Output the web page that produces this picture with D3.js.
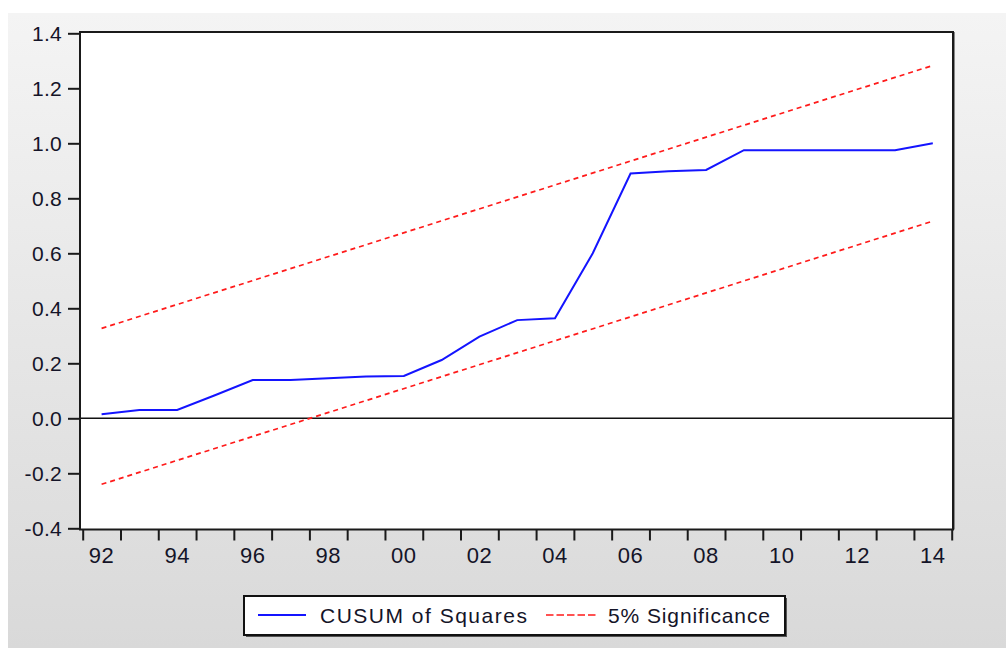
<!DOCTYPE html>
<html>
<head>
<meta charset="utf-8">
<script src="https://cdn.jsdelivr.net/npm/d3@7"></script>
<style>
  body { margin: 0; background: #fff; }
  svg { display: block; }
  text { font-family: "Liberation Sans", Arial, sans-serif; fill: #141428; }
</style>
</head>
<body>
<div id="chart"></div>
<script>
// Data
const years = [1992, 1993, 1994, 1995, 1996, 1997, 1998, 1999, 2000, 2001, 2002, 2003,
  2004, 2005, 2006, 2007, 2008, 2009, 2010, 2011, 2012, 2013, 2014];
const cusum_sq = [0.015, 0.030, 0.030, 0.084, 0.139, 0.139, 0.146, 0.152, 0.154, 0.212, 0.297, 0.357,
  0.364, 0.600, 0.890, 0.898, 0.903, 0.975, 0.975, 0.975, 0.975, 0.975, 1.000];
// 5% bands are straight lines, endpoints only
const band_years = [1992, 2014];
const upper_band = [0.327, 1.283];
const lower_band = [-0.240, 0.717];
const y_ticks = [-0.4, -0.2, 0.0, 0.2, 0.4, 0.6, 0.8, 1.0, 1.2, 1.4];
const x_labels = [1992, 1994, 1996, 1998, 2000, 2002, 2004, 2006, 2008, 2010, 2012, 2014];
const legend_names = ['CUSUM of Squares', '5% Significance'];

// Canvas
const WIDTH = 1006;
const HEIGHT = 648;
const FRAME = { left: 80, right: 953, top: 32, bottom: 529.5 };
const FONT = 21;

let svg = d3.select('#chart').append('svg')
  .attr('width', WIDTH)
  .attr('height', HEIGHT);

let defs = svg.append('defs');
let grad = defs.append('linearGradient')
  .attr('id', 'bg')
  .attr('x1', 0).attr('y1', 0).attr('x2', 0).attr('y2', 1);
grad.append('stop').attr('offset', '0%').attr('stop-color', '#f4f4f4');
grad.append('stop').attr('offset', '100%').attr('stop-color', '#d9d9d9');

svg.append('rect')
  .attr('x', 8).attr('y', 13)
  .attr('width', WIDTH - 8).attr('height', HEIGHT - 13)
  .attr('fill', 'url(#bg)');

// Scales: x in years, points sit mid-year
let x = d3.scaleLinear().domain([1992, 2015]).range([82.7, 951.7]);
let y = d3.scaleLinear().domain([-0.4, 1.4]).range([528.3, 33.3]);

// Plot area
svg.append('rect')
  .attr('x', FRAME.left).attr('y', FRAME.top)
  .attr('width', FRAME.right - FRAME.left)
  .attr('height', FRAME.bottom - FRAME.top)
  .attr('fill', '#fff');

// Y axis
let y_axis = svg.append('g')
  .attr('transform', 'translate(' + FRAME.left + ',0)')
  .call(d3.axisLeft(y).tickValues(y_ticks).tickSize(12).tickPadding(6)
    .tickFormat(d => d.toFixed(1)));
y_axis.select('.domain').remove();
y_axis.selectAll('line').attr('stroke', '#1a1a1a').attr('stroke-width', 2);
y_axis.selectAll('text')
  .attr('font-size', FONT)
  .attr('letter-spacing', 0.3)
  .attr('font-family', '"Liberation Sans", Arial, sans-serif')
  .attr('fill', '#141428');

// X axis: ticks at year boundaries, labels in the middle of the year
let x_axis = svg.append('g')
  .attr('transform', 'translate(0,' + FRAME.bottom + ')')
  .call(d3.axisBottom(x).tickValues(d3.range(1992, 2016)).tickSize(11).tickFormat(''));
x_axis.select('.domain').remove();
x_axis.selectAll('line').attr('stroke', '#1a1a1a').attr('stroke-width', 2);

svg.append('g').selectAll('text')
  .data(x_labels)
  .join('text')
  .attr('x', d => x(d + 0.5))
  .attr('y', 563)
  .attr('text-anchor', 'middle')
  .attr('font-size', 22)
  .attr('letter-spacing', 0.5)
  .text(d => String(d % 100).padStart(2, '0'));

// Zero line
svg.append('line')
  .attr('x1', FRAME.left).attr('x2', FRAME.right)
  .attr('y1', y(0)).attr('y2', y(0))
  .attr('stroke', '#111').attr('stroke-width', 1.6);

// Significance bands
let band_line = d3.line()
  .x((d, i) => x(band_years[i] + 0.5))
  .y(d => y(d));

[upper_band, lower_band].forEach(b => {
  svg.append('path')
    .attr('d', band_line(b))
    .attr('fill', 'none')
    .attr('stroke', '#ff1a1a')
    .attr('stroke-width', 1.7)
    .attr('stroke-dasharray', '5,4');
});

// CUSUM of squares
let cusum_line = d3.line()
  .x((d, i) => x(years[i] + 0.5))
  .y(d => y(d));

svg.append('path')
  .attr('d', cusum_line(cusum_sq))
  .attr('fill', 'none')
  .attr('stroke', '#1414ff')
  .attr('stroke-width', 2);

// Frame
svg.append('rect')
  .attr('x', FRAME.left).attr('y', FRAME.top)
  .attr('width', FRAME.right - FRAME.left)
  .attr('height', FRAME.bottom - FRAME.top)
  .attr('fill', 'none')
  .attr('stroke', '#1a1a1a')
  .attr('stroke-width', 2);
svg.append('line')
  .attr('x1', FRAME.right + 1.5).attr('x2', FRAME.right + 1.5)
  .attr('y1', FRAME.top).attr('y2', FRAME.bottom)
  .attr('stroke', '#888').attr('stroke-width', 1);

// Legend
let lg = svg.append('g');
lg.append('rect')
  .attr('x', 246).attr('y', 598)
  .attr('width', 541).attr('height', 39)
  .attr('fill', '#555');
lg.append('rect')
  .attr('x', 244).attr('y', 596)
  .attr('width', 541).attr('height', 39)
  .attr('fill', '#fff')
  .attr('stroke', '#111')
  .attr('stroke-width', 2);

lg.append('line')
  .attr('x1', 258).attr('x2', 306)
  .attr('y1', 615).attr('y2', 615)
  .attr('stroke', '#1414ff').attr('stroke-width', 2);
lg.append('text')
  .attr('x', 320).attr('y', 623)
  .attr('font-size', FONT)
  .attr('letter-spacing', 1.5)
  .text(legend_names[0]);

lg.append('line')
  .attr('x1', 546).attr('x2', 596)
  .attr('y1', 615).attr('y2', 615)
  .attr('stroke', '#ff1a1a').attr('stroke-width', 1.7)
  .attr('stroke-dasharray', '7.5,3');
lg.append('text')
  .attr('x', 608).attr('y', 623)
  .attr('font-size', FONT)
  .attr('letter-spacing', 0.9)
  .text(legend_names[1]);
</script>
</body>
</html>
